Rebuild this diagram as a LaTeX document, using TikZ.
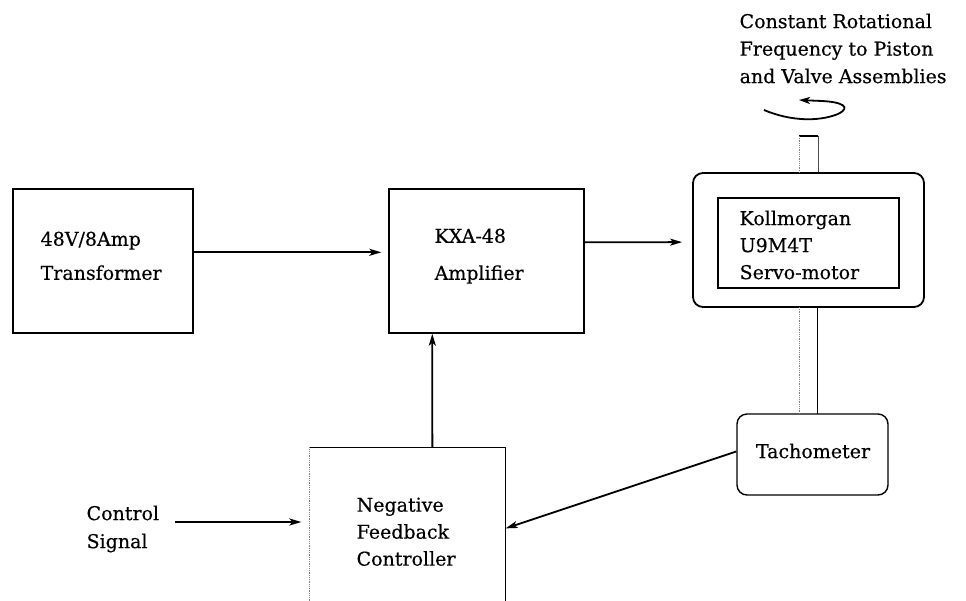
\documentclass[tikz,border=0pt]{standalone}
\usepackage{fontspec}
\setmainfont[FakeBold=0.4]{DejaVu Serif}
\usetikzlibrary{arrows.meta,calc}
\begin{document}
\begin{tikzpicture}[x=1pt,y=-1pt,
  line width=1.3pt,
  arr/.style={-{Stealth[length=12pt,width=7pt,inset=3pt]}, line width=1.8pt},
  blk/.style={draw, line width=1.4pt, inner sep=0pt},
  lbl/.style={inner sep=0pt, anchor=north west, align=left, font=\fontsize{19}{27}\selectfont},
  faint/.style={draw=black!50, line width=0.8pt, densely dotted}]
\useasboundingbox (0,0) rectangle (966,600);

% blocks
\node[blk, minimum width=180pt, minimum height=144pt] (tr) at (103,261) {};
\node[blk, minimum width=195pt, minimum height=144pt] (amp) at (486.5,261) {};
\node[blk, rounded corners=10pt, line width=1.8pt, minimum width=231pt, minimum height=134pt] (mot) at (808.5,240) {};
\node[blk, line width=2pt, minimum width=181pt, minimum height=90pt] (motin) at (808.5,243) {};
\node[blk, rounded corners=10pt, minimum width=151pt, minimum height=81pt] (tach) at (812.5,454.5) {};
\node[inner sep=0pt, minimum width=195pt, minimum height=152pt] (ctl) at (407.5,524) {};
\draw[line width=1.6pt] (ctl.north west) -- (ctl.north east) -- (ctl.south east);
\draw[faint] (ctl.north west) -- (ctl.south west);

% texts
\node[lbl, font=\fontsize{19}{34}\selectfont] (trt) at (40,231) {48V/8Amp\\Transformer};
\node[lbl, font=\fontsize{19}{37}\selectfont] (ampt) at (434,228) {KXA-48\\Amplifier};
\node[lbl] (mott) at (739,210) {Kollmorgan\\U9M4T\\Servo-motor};
\node[lbl, anchor=center] (tacht) at (813,451) {Tachometer};
\node[lbl] (ctlt) at (356,497) {Negative\\Feedback\\Controller};
\node[lbl, font=\fontsize{19}{28}\selectfont] (sig) at (86,505) {Control\\Signal};
\node[lbl, font=\fontsize{19}{27.5}\selectfont] (top) at (739,13) {Constant Rotational\\Frequency to Piston\\and Valve Assemblies};

% shafts
\coordinate (sa) at (799,136);
\coordinate (sb) at (818,136);
\draw[line width=1.6pt] (sa) -- (sb);
\draw[faint] (sa) -- (sa |- mot.north);
\draw[draw=black!70, line width=0.8pt] (sb) -- (sb |- mot.north);
\draw[faint] (799,307) -- (799,414);
\draw[line width=1pt] (817,307) -- (817,414);

% rotation arrow
\coordinate (r0) at (764,110);
\coordinate (r1) at (799,100);
\draw[-{Stealth[length=11pt,width=7pt,inset=3pt]}, line width=1.8pt] (r0) .. controls (790,121) and (818,122) .. (838,114) .. controls (852,107) and (842,102) .. (822,101) -- (r1);

% connectors
\draw[arr, shorten >=7pt] ($(tr.north east)+(0,64)$) -- ($(amp.north west)+(0,64)$);
\draw[arr, shorten >=10pt] ($(amp.north east)+(0,54)$) -- ($(mot.north west)+(0,70)$);
\draw[arr] ($(ctl.north west)+(123,0)$) -- ($(amp.south west)+(44,0)$);
\coordinate (cs) at (175,522);
\draw[arr, shorten >=8pt] (cs) -- (cs -| ctl.west);
\draw[arr] ($(tach.west)+(0,-3)$) -- ($(ctl.north east)+(0,81)$);
\end{tikzpicture}
\end{document}
